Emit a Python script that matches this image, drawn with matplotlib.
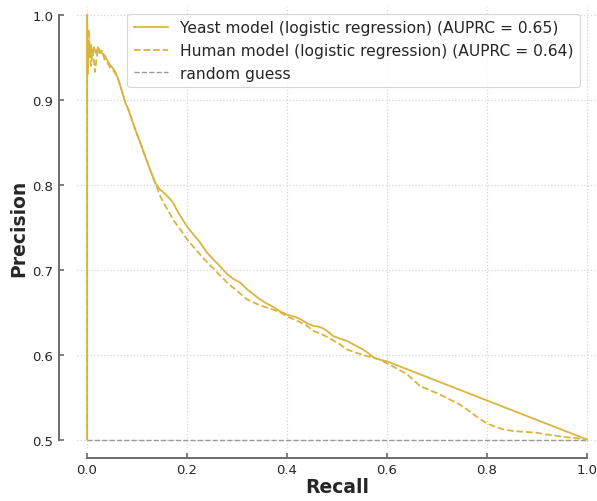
import matplotlib
matplotlib.use("Agg")
import matplotlib.pyplot as plt

# ---------------- data ----------------
yeast_recall = [0.0, 0.0, 0.001, 0.003, 0.005, 0.008, 0.011, 0.014, 0.018, 0.022, 0.026, 0.030,
                0.036, 0.042, 0.048, 0.055, 0.062, 0.069, 0.076, 0.083, 0.090, 0.096, 0.103,
                0.110, 0.116, 0.123, 0.130, 0.136, 0.145, 0.155, 0.165, 0.172, 0.180, 0.190,
                0.200, 0.212, 0.225, 0.240, 0.253, 0.266, 0.280, 0.293, 0.306, 0.320, 0.333,
                0.346, 0.360, 0.373, 0.386, 0.400, 0.413, 0.426, 0.440, 0.452, 0.462, 0.472,
                0.482, 0.492, 0.505, 0.520, 0.536, 0.552, 0.562, 0.572, 0.586, 0.600, 1.0]
yeast_precision = [0.5, 1.0, 0.93, 0.97, 0.95, 0.965, 0.952, 0.962, 0.955, 0.962, 0.958, 0.955,
                   0.952, 0.945, 0.940, 0.935, 0.925, 0.912, 0.898, 0.888, 0.876, 0.866, 0.855,
                   0.844, 0.834, 0.823, 0.812, 0.803, 0.795, 0.790, 0.784, 0.779, 0.770, 0.760,
                   0.751, 0.742, 0.733, 0.720, 0.712, 0.704, 0.695, 0.689, 0.685, 0.677, 0.671,
                   0.665, 0.660, 0.656, 0.651, 0.647, 0.645, 0.642, 0.637, 0.634, 0.633, 0.631,
                   0.627, 0.622, 0.619, 0.616, 0.611, 0.606, 0.602, 0.597, 0.594, 0.592, 0.5]

human_recall = [0.0, 0.0, 0.002, 0.004, 0.006, 0.008, 0.011, 0.014, 0.016, 0.019, 0.022, 0.026,
                0.030, 0.035, 0.040, 0.046, 0.052, 0.058, 0.062, 0.069, 0.076, 0.083, 0.090,
                0.096, 0.103, 0.110, 0.116, 0.123, 0.130, 0.136, 0.140, 0.146, 0.155, 0.165,
                0.172, 0.186, 0.200, 0.220, 0.240, 0.260, 0.280, 0.300, 0.320, 0.346, 0.372,
                0.386, 0.400, 0.420, 0.440, 0.452, 0.466, 0.480, 0.506, 0.520, 0.550, 0.586,
                0.612, 0.640, 0.666, 0.690, 0.706, 0.726, 0.746, 0.766, 0.786, 0.800, 0.812,
                0.832, 0.852, 0.876, 0.900, 0.916, 0.932, 0.952, 0.972, 1.0]
human_precision = [0.5, 1.0, 0.95, 0.983, 0.955, 0.94, 0.958, 0.945, 0.933, 0.948, 0.960, 0.955,
                   0.958, 0.948, 0.945, 0.938, 0.935, 0.930, 0.925, 0.912, 0.898, 0.888, 0.876,
                   0.866, 0.855, 0.844, 0.834, 0.823, 0.812, 0.803, 0.797, 0.787, 0.777, 0.767,
                   0.759, 0.748, 0.736, 0.722, 0.709, 0.697, 0.685, 0.675, 0.665, 0.658, 0.653,
                   0.650, 0.645, 0.640, 0.634, 0.628, 0.625, 0.621, 0.612, 0.606, 0.600, 0.594,
                   0.586, 0.577, 0.563, 0.557, 0.553, 0.547, 0.541, 0.533, 0.524, 0.519, 0.516,
                   0.512, 0.510, 0.509, 0.508, 0.506, 0.505, 0.503, 0.502, 0.5]

random_recall = [0.0, 1.0]
random_precision = [0.5, 0.5]

labels = ["Yeast model (logistic regression) (AUPRC = 0.65)",
          "Human model (logistic regression) (AUPRC = 0.64)",
          "random guess"]
xticks = [0.0, 0.2, 0.4, 0.6, 0.8, 1.0]
yticks = [0.5, 0.6, 0.7, 0.8, 0.9, 1.0]

# ---------------- style ----------------
gold = "#d9b53f"
spine_col = "#6b6b6b"
text_col = "#262626"
plt.rcParams["font.family"] = ["DejaVu Sans"]

W, H = 597, 502
fig = plt.figure(figsize=(W / 100, H / 100), dpi=100)
ax = fig.add_axes([77 / W, (H - 449) / H, 520 / W, 441.5 / H])

ax.plot(yeast_recall, yeast_precision, color=gold, lw=1.3, ls="-", label=labels[0], zorder=3)
ax.plot(human_recall, human_precision, color=gold, lw=1.3, ls="--", label=labels[1], zorder=3)
ax.plot(random_recall, random_precision, color="#9a9a9a", lw=1.0, ls="--", label=labels[2], zorder=2)

ax.set_xlim(-0.02, 1.02)
ax.set_ylim(0.49, 1.01)
ax.set_xticks(xticks)
ax.set_yticks(yticks)
ax.set_xticklabels([f"{t:.1f}" for t in xticks])
ax.set_yticklabels([f"{t:.1f}" for t in yticks])

ax.grid(True, ls=":", color="#d5d5d5", lw=0.9)
ax.set_axisbelow(True)

for s in ("top", "right"):
    ax.spines[s].set_visible(False)
ax.spines["left"].set_position(("outward", 13))
ax.spines["bottom"].set_position(("outward", 7))
ax.spines["left"].set_bounds(0.5, 1.0)
ax.spines["bottom"].set_bounds(0.0, 1.0)
for s in ("left", "bottom"):
    ax.spines[s].set_color(spine_col)
    ax.spines[s].set_linewidth(1.4)

ax.tick_params(direction="in", length=3.8, width=1.2, color=spine_col,
               labelsize=9.5, labelcolor=text_col, pad=4)

ax.set_xlabel("Recall", fontsize=13.5, fontweight="bold", color=text_col)
ax.set_ylabel("Precision", fontsize=13.5, fontweight="bold", color=text_col)
ax.xaxis.set_label_coords((337 - 77) / 520, -(488 - 449) / 441.5, transform=ax.transAxes)
ax.yaxis.set_label_coords(-(77 - 19) / 520, (449 - 228) / 441.5, transform=ax.transAxes)
ax.xaxis.label.set_va("center")
ax.yaxis.label.set_va("center")

leg = ax.legend(loc="upper right", bbox_to_anchor=(580 / W, 1 - 15 / H),
                bbox_transform=fig.transFigure, borderaxespad=0, fontsize=11.2,
                frameon=True, fancybox=True, handlelength=2.2, labelcolor=text_col)
leg.get_frame().set_edgecolor("#cccccc")
leg.get_frame().set_linewidth(0.8)

fig.savefig("out.png", dpi=100)
